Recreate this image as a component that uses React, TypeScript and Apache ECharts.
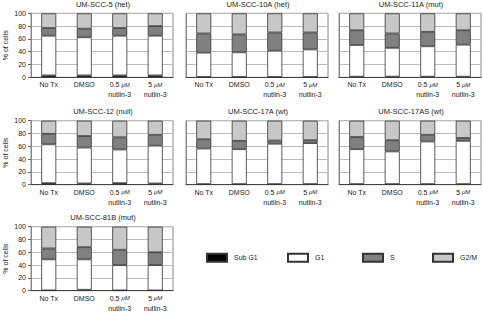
import React, { useEffect, useRef } from "react";
import * as echarts from "echarts";

const panelTitles = [
  "UM-SCC-5 (het)",
  "UM-SCC-10A (het)",
  "UM-SCC-11A (mut)",
  "UM-SCC-12 (null)",
  "UM-SCC-17A (wt)",
  "UM-SCC-17AS (wt)",
  "UM-SCC-81B (mut)",
];
const categories = ["No Tx", "DMSO", "0.5 μM nutlin-3", "5 μM nutlin-3"];
const phaseNames = ["Sub G1", "G1", "S", "G2/M"];
const yTicks = [0, 20, 40, 60, 80, 100];

const subG1 = [
  [3, 3, 3, 3],
  [0.5, 0.5, 0.5, 0.5],
  [1, 1, 1, 1],
  [2.5, 2, 2.5, 2],
  [1, 1, 1, 1],
  [1, 1, 1, 1],
  [0.5, 1.5, 0.5, 0.5],
];
const g1 = [
  [62, 59.5, 62, 62],
  [38, 38.5, 41, 43],
  [49.5, 45, 47.5, 50],
  [60.5, 56, 52.5, 59],
  [55.5, 54.5, 63, 64],
  [54.5, 51, 66.5, 67.5],
  [48.5, 47.5, 39.5, 39.5],
];
const sPhase = [
  [12, 13.5, 12, 15],
  [30, 28, 28.5, 26.5],
  [23, 22.5, 22.5, 22.5],
  [16.5, 18, 19, 17],
  [14.5, 13, 5, 4.5],
  [19, 17.5, 10.5, 4.5],
  [17, 19, 24, 20],
];
const g2m = [
  [23, 24, 23, 20],
  [31.5, 33, 30, 30],
  [26.5, 31.5, 29, 26.5],
  [20.5, 24, 26, 22],
  [29, 31.5, 31, 30.5],
  [25.5, 30.5, 22, 27],
  [34, 32, 36, 40],
];

const phaseData = [subG1, g1, sPhase, g2m];
const phaseColors = ["#000000", "#ffffff", "#808080", "#c8c8c8"];

const FONT = "'Liberation Sans', Arial, sans-serif";
const colLeft = [31, 186, 339];
const rowTop = [13.3, 120.7, 226.7];
const plotW = 142;
const plotH = 64;

function firstLine(v: string): string {
  const m = v.match(/^(.*) μM (.*)$/);
  if (!m) return "{n|" + v + "}";
  return "{n|" + m[1] + " }{i|μM}";
}
function secondLine(v: string): string {
  const m = v.match(/^(.*) μM (.*)$/);
  return m ? m[2] : "";
}

export default function App() {
  const ref = useRef<HTMLDivElement>(null);
  useEffect(() => {
    if (!ref.current) return;
    const chart = echarts.init(ref.current, undefined, { renderer: "svg" });
    const grids: any[] = [];
    const xAxes: any[] = [];
    const xAxes2: any[] = [];
    const yAxes: any[] = [];
    const titles: any[] = [];
    const series: any[] = [];
    panelTitles.forEach((t, p) => {
      const col = p % 3;
      const row = Math.floor(p / 3);
      const left = colLeft[col];
      const top = rowTop[row];
      grids.push({
        left,
        top,
        width: plotW,
        height: plotH,
        show: true,
        borderColor: "#888",
        borderWidth: 1,
        containLabel: false,
      });
      titles.push({
        text: t,
        left: left + plotW / 2 + 1,
        top: top - 13,
        textAlign: "center",
        padding: 0,
        textStyle: { fontSize: 7.5, fontWeight: "normal", color: "#222", fontFamily: FONT },
      });
      xAxes.push({
        type: "category",
        gridIndex: p,
        data: categories,
        axisTick: { show: false },
        axisLine: { lineStyle: { color: "#444", width: 1 } },
        axisLabel: {
          interval: 0,
          fontSize: 7,
          color: "#222",
          fontFamily: FONT,
          margin: 4,
          formatter: firstLine,
          rich: {
            n: { fontSize: 7, color: "#222", fontFamily: FONT },
            i: { fontStyle: "italic", fontSize: 6, color: "#222", fontFamily: FONT },
          },
        },
      });
      xAxes2.push({
        type: "category",
        gridIndex: p,
        position: "bottom",
        data: categories,
        axisTick: { show: false },
        axisLine: { show: false },
        splitLine: { show: false },
        axisLabel: {
          interval: 0,
          fontSize: 7,
          color: "#222",
          fontFamily: FONT,
          margin: 14,
          formatter: secondLine,
        },
      });
      const first = col === 0;
      yAxes.push({
        type: "value",
        gridIndex: p,
        min: yTicks[0],
        max: yTicks[yTicks.length - 1],
        interval: yTicks[1] - yTicks[0],
        name: first ? "% of cells" : "",
        nameLocation: "middle",
        nameGap: 22,
        nameRotate: 90,
        nameTextStyle: { fontSize: 7, color: "#222", fontFamily: FONT },
        axisLine: { show: true, lineStyle: { color: "#888" } },
        axisTick: { show: first, length: 3, lineStyle: { color: "#666" } },
        axisLabel: { show: first, fontSize: 7, color: "#222", fontFamily: FONT, margin: 5 },
        splitLine: { show: true, lineStyle: { color: "#bbb", width: 1 } },
      });
      phaseNames.forEach((name, k) => {
        series.push({
          type: "bar",
          name,
          stack: "panel" + p,
          xAxisIndex: p,
          yAxisIndex: p,
          barWidth: 15,
          data: phaseData[k][p],
          itemStyle: { color: phaseColors[k], borderColor: "#333", borderWidth: 0.8 },
        });
      });
    });
    const legendLefts = [206, 287, 362, 432];
    const legends = phaseNames.map((n, i) => ({
      data: [n],
      left: legendLefts[i],
      top: 252.7,
      padding: 0,
      itemWidth: 20,
      itemHeight: 8,
      icon: "rect",
      selectedMode: false,
      textStyle: { fontSize: 7, color: "#222", fontFamily: FONT, padding: [0, 0, 0, 2] },
    }));
    chart.setOption({
      animation: false,
      textStyle: { fontFamily: FONT },
      title: titles,
      grid: grids,
      xAxis: xAxes.concat(xAxes2),
      yAxis: yAxes,
      legend: legends,
      series,
    });
    return () => chart.dispose();
  }, []);
  return (
    <div
      ref={ref}
      style={{ position: "fixed", left: 0, top: 0, width: 483, height: 313, background: "#fff" }}
    />
  );
}
